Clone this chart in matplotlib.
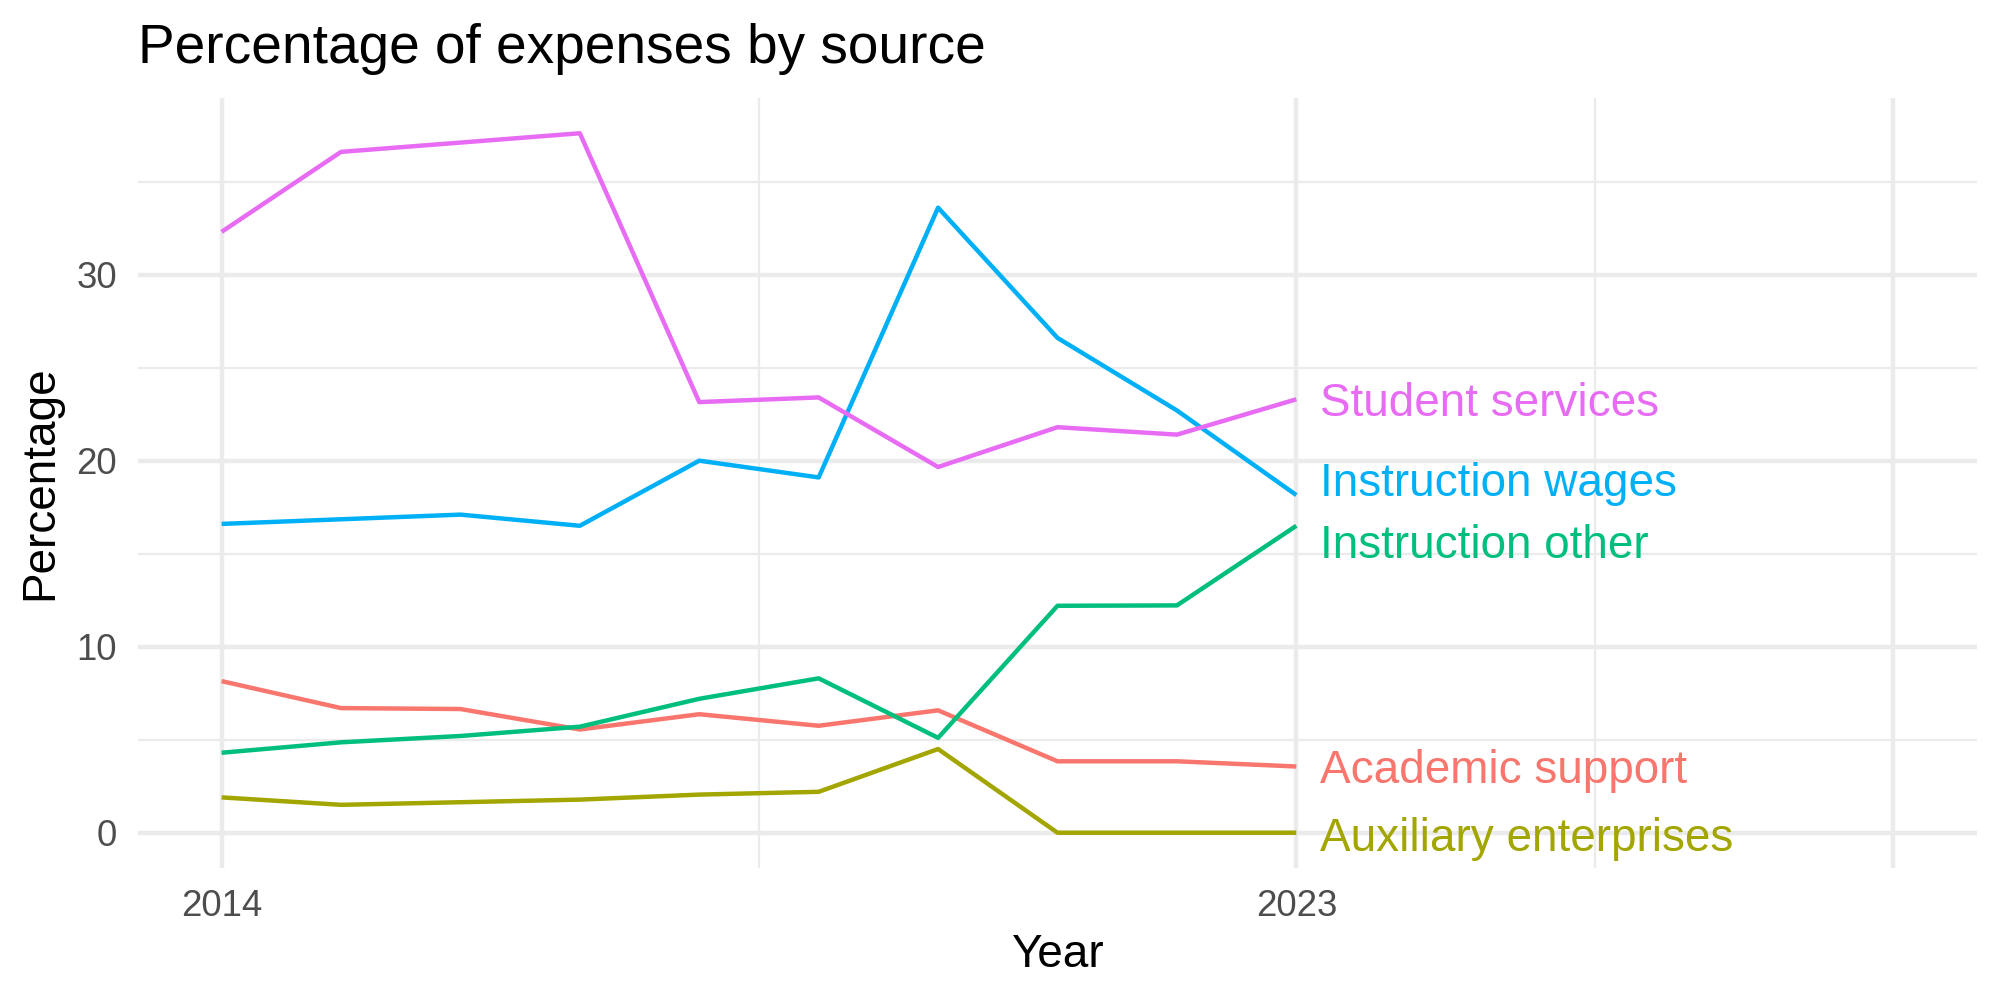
import numpy as np
import matplotlib
matplotlib.use("Agg")
import matplotlib.pyplot as plt

plt.rcParams['font.family'] = ['Liberation Sans', 'DejaVu Sans']

years = [2014, 2015, 2016, 2017, 2018, 2019, 2020, 2021, 2022, 2023]

academic_support = [8.15, 6.7, 6.65, 5.55, 6.37, 5.75, 6.58, 3.84, 3.84, 3.56]
auxiliary_enterprises = [1.9, 1.5, 1.64, 1.78, 2.05, 2.2, 4.5, 0.0, 0.0, 0.0]
instruction_other = [4.3, 4.86, 5.2, 5.7, 7.2, 8.3, 5.1, 12.2, 12.22, 16.5]
instruction_wages = [16.6, 16.85, 17.1, 16.5, 20.0, 19.1, 33.6, 26.6, 22.7, 18.15]
student_services = [32.3, 36.6, 37.1, 37.6, 23.15, 23.4, 19.66, 21.8, 21.4, 23.3]

series_names = ["Academic support", "Auxiliary enterprises", "Instruction other",
                "Instruction wages", "Student services"]
series_values = [academic_support, auxiliary_enterprises, instruction_other,
                 instruction_wages, student_services]
# ggplot default hue palette
colors = ["#F8766D", "#A3A500", "#00BF7D", "#00B0F6", "#E76BF3"]

# labels pushed apart the way ggrepel did it
label_shift = {"Instruction wages": 0.85, "Instruction other": -0.85,
               "Auxiliary enterprises": -0.1}

fig = plt.figure(figsize=(10, 5), dpi=200)
ax = fig.add_axes([0.069, 0.1323, 0.9195, 0.7694])

for name, vals, col in zip(series_names, series_values, colors):
    ax.plot(years, vals, color=col, lw=1.6, solid_capstyle="butt", zorder=3)
    ax.text(years[-1] + 0.2, vals[-1] + label_shift.get(name, 0.0) - 0.25, name,
            color=col, fontsize=16.5, ha="left", va="center", zorder=4)

# x range runs out to 2028 to leave room for the labels
ax.set_xlim(2014 - 0.7, 2028 + 0.7)
ax.set_ylim(-1.88, 37.6 + 1.88)

ax.set_xticks([2014, 2023, 2028])
ax.set_xticklabels(["2014", "2023", ""])
ax.set_xticks([2018.5, 2025.5], minor=True)
ax.set_yticks([0, 10, 20, 30])
ax.set_yticks([5, 15, 25, 35], minor=True)

ax.grid(which="major", color="#EBEBEB", lw=1.6)
ax.grid(which="minor", color="#EBEBEB", lw=0.8)
ax.set_axisbelow(True)
for spine in ax.spines.values():
    spine.set_visible(False)
ax.tick_params(which="both", length=0, labelsize=13.2, labelcolor="#4D4D4D", pad=7.5)

ax.set_xlabel("Year", fontsize=16.5, labelpad=3.5)
ax.set_ylabel("Percentage", fontsize=16.5, labelpad=5)

fig.text(0.069, 0.937, "Percentage of expenses by source", fontsize=19.8,
         ha="left", va="baseline")

fig.savefig("out.png", dpi=200)
